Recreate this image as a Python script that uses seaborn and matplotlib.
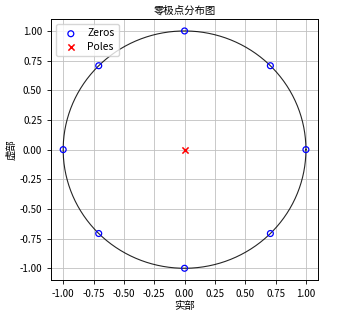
import numpy as np
import pandas as pd
import matplotlib
matplotlib.use("Agg")
import matplotlib.pyplot as plt
import seaborn as sns

plt.rcParams['font.family'] = ['Noto Sans CJK SC', 'DejaVu Sans']
plt.rcParams['axes.unicode_minus'] = False

zeros_re = [1.0, 0.7071, 0.0, -0.7071, -1.0, -0.7071, 0.0, 0.7071]
zeros_im = [0.0, 0.7071, 1.0, 0.7071, 0.0, -0.7071, -1.0, -0.7071]
poles_re = [0.0]
poles_im = [0.0]

fig = plt.figure(figsize=(3.38, 3.13), dpi=100)
ax = fig.add_axes([0.151, 0.105, 0.790, 0.834])

theta = np.linspace(0, 2 * np.pi, 400)
ax.plot(np.cos(theta), np.sin(theta), color='black', linewidth=0.8, alpha=0.85)

zdf = pd.DataFrame({'re': zeros_re, 'im': zeros_im})
pdf = pd.DataFrame({'re': poles_re, 'im': poles_im})
sns.scatterplot(data=zdf, x='re', y='im', ax=ax, marker='o', s=18,
                facecolors='none', edgecolor='blue', linewidth=0.9, label='Zeros', zorder=3)
sns.scatterplot(data=pdf, x='re', y='im', ax=ax, marker='x', s=20,
                color='red', linewidth=1.1, label='Poles', zorder=3)

ax.set_xlim(-1.1, 1.1)
ax.set_ylim(-1.1, 1.1)
ax.set_xticks([-1.0, -0.75, -0.5, -0.25, 0.0, 0.25, 0.5, 0.75, 1.0])
ax.set_yticks([-1.0, -0.75, -0.5, -0.25, 0.0, 0.25, 0.5, 0.75, 1.0])
ax.tick_params(labelsize=7, length=3, width=0.6)
ax.grid(True, color='#c0c0c0', linewidth=0.6)
ax.set_axisbelow(True)
for sp in ax.spines.values():
    sp.set_linewidth(0.7)
ax.set_title('零极点分布图', fontsize=7.5, pad=4)
ax.set_xlabel('实部', fontsize=7.5, labelpad=1)
ax.set_ylabel('虚部', fontsize=7.5, labelpad=2)
ax.legend(loc='upper left', fontsize=7.5, frameon=True, handletextpad=0.6,
          borderpad=0.4, labelspacing=0.3)

fig.savefig('out.png', dpi=100)
